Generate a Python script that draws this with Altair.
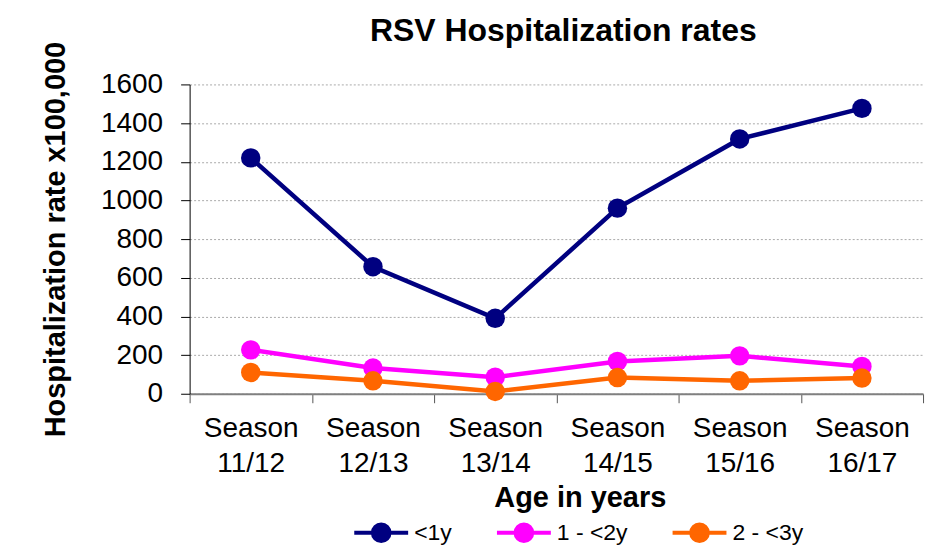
import altair as alt
import pandas as pd

seasons = ["Season 11/12", "Season 12/13", "Season 13/14", "Season 14/15", "Season 15/16", "Season 16/17"]
groups = ["<1y", "1 - <2y", "2 - <3y"]
colors = ["#000080", "#FF00FF", "#FF6600"]
rate_lt1 = [1220, 657, 390, 960, 1318, 1476]
rate_1_2 = [227, 133, 86, 167, 196, 141]
rate_2_3 = [110, 67, 12, 84, 67, 81]
y_ticks = [0, 200, 400, 600, 800, 1000, 1200, 1400, 1600]

rows = []
for g, vals in zip(groups, [rate_lt1, rate_1_2, rate_2_3]):
    for i, (s, v) in enumerate(zip(seasons, vals)):
        rows.append({"season": s, "group": g, "rate": v, "order": groups.index(g)})
df = pd.DataFrame(rows)

FONT = "Liberation Sans"
leg_path = "M-1,0L1,0M0.31,0A0.31,0.31,0,1,1,-0.31,0A0.31,0.31,0,1,1,0.31,0Z"

x = alt.X(
    "season:N",
    sort=seasons,
    scale=alt.Scale(type="band", paddingInner=0, paddingOuter=0),
    axis=alt.Axis(
        title="Age in years",
        titleFont=FONT, titleFontSize=29, titleFontWeight="bold", titleColor="black",
        titleX=391, titleY=113, titleBaseline="alphabetic", titleAlign="center",
        labelExpr="split(datum.label, ' ')",
        labelFont=FONT, labelFontSize=28, labelColor="black", labelAngle=0,
        labelLineHeight=35, labelPadding=12,
        tickBand="extent", tickSize=9, tickColor="#555555", tickWidth=1,
        domainColor="#808080", domainWidth=2, grid=False,
    ),
)
y = alt.Y(
    "rate:Q",
    scale=alt.Scale(domain=[0, 1600], nice=False),
    axis=alt.Axis(
        title="Hospitalization rate x100,000",
        titleFont=FONT, titleFontSize=29, titleFontWeight="bold", titleColor="black",
        titleAngle=270, titleX=-134, titleY=155, titleBaseline="middle", titleAlign="center",
        values=y_ticks, format="d",
        labelFont=FONT, labelFontSize=28, labelColor="black", labelPadding=18,
        tickSize=9, tickColor="black", domainColor="black", domainWidth=1,
        grid=True, gridColor="#aaaaaa", gridDash=[2, 2], gridWidth=1,
    ),
)
color = alt.Color(
    "group:N",
    sort=groups,
    scale=alt.Scale(domain=groups, range=colors),
    legend=alt.Legend(
        title=None, orient="none", direction="horizontal",
        legendX=163, legendY=420, gridAlign="each",
        symbolType=leg_path, symbolSize=2916, symbolStrokeWidth=4,
        labelFont=FONT, labelFontSize=23, labelColor="black", labelOffset=4,
        columnPadding=37, padding=0,
    ),
)

chart = (
    alt.Chart(df)
    .mark_line(strokeWidth=4.5, point=alt.OverlayMarkDef(filled=True, size=380, opacity=1))
    .encode(x=x, y=y, color=color, order="order:Q")
    .properties(
        width=735, height=310,
        title=alt.TitleParams(
            "RSV Hospitalization rates", font=FONT, fontSize=32, fontWeight="bold",
            color="black", anchor="middle", frame="group", dx=7, offset=-7,
        ),
        padding={"left": 182, "top": 76, "right": 20, "bottom": 152},
        autosize=alt.AutoSizeParams(type="none"),
    )
    .configure_view(stroke=None)
)

chart.save("out.html", embed_options={"renderer": "svg", "actions": False})
